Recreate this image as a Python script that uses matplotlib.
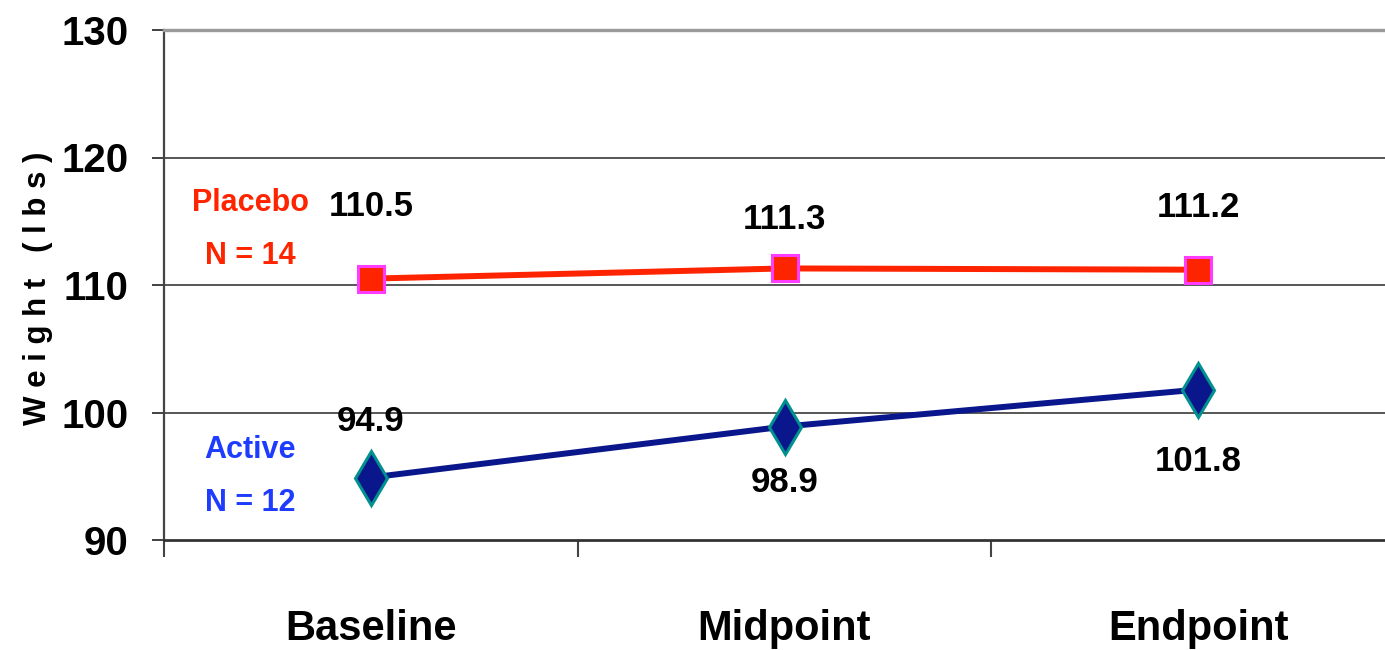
import matplotlib
matplotlib.use("Agg")
import matplotlib.pyplot as plt
from matplotlib.ticker import FixedLocator

# ---- data ----
timepoints = ["Baseline", "Midpoint", "Endpoint"]
placebo_weight = [110.5, 111.3, 111.2]
active_weight = [94.9, 98.9, 101.8]
placebo_group = ["Placebo", "N = 14"]
active_group = ["Active", "N = 12"]
y_ticks = [90, 100, 110, 120, 130]

# ---- styling ----
FONT = ["Liberation Sans Narrow", "Liberation Sans", "DejaVu Sans"]
RED = "#FF2400"
MAGENTA = "#FF3CFF"
NAVY = "#0A168C"
TEAL = "#00908E"
BLUE_TXT = "#1E3CFF"

# label offsets (points) above/below each marker
placebo_offsets = [52, 35, 45]
active_offsets = [40, -40, -52]

fig = plt.figure(figsize=(13.85, 6.5), dpi=100)
ax = fig.add_axes([164 / 1385, 1 - 540 / 650, (1405 - 164) / 1385, (540 - 30) / 650])

x = list(range(len(timepoints)))

ax.plot(x, placebo_weight, color=RED, lw=4.3, marker="s", markersize=18.5,
        markerfacecolor=RED, markeredgecolor=MAGENTA, markeredgewidth=2.2,
        zorder=4, clip_on=False)
ax.plot(x, active_weight, color=NAVY, lw=4.3, marker="d", markersize=27,
        markerfacecolor=NAVY, markeredgecolor=TEAL, markeredgewidth=2.2,
        zorder=4, clip_on=False)

for xi, v, off in zip(x, placebo_weight, placebo_offsets):
    ax.annotate(f"{v:.1f}", (xi, v), xytext=(0, off), textcoords="offset points",
                ha="center", va="center", fontsize=25, fontweight="bold",
                family=FONT, color="black", zorder=5)
for xi, v, off in zip(x, active_weight, active_offsets):
    ax.annotate(f"{v:.1f}", (xi, v), xytext=(0, off), textcoords="offset points",
                ha="center", va="center", fontsize=25, fontweight="bold",
                family=FONT, color="black", zorder=5)

# group captions at the left of the plot
gx = -0.292
ax.text(gx, 116.4, placebo_group[0], ha="center", va="center", fontsize=22,
        fontweight="bold", family=FONT, color=RED)
ax.text(gx, 112.3, placebo_group[1], ha="center", va="center", fontsize=22,
        fontweight="bold", family=FONT, color=RED)
ax.text(gx, 97.06, active_group[0], ha="center", va="center", fontsize=22,
        fontweight="bold", family=FONT, color=BLUE_TXT)
ax.text(gx, 92.9, active_group[1], ha="center", va="center", fontsize=22,
        fontweight="bold", family=FONT, color=BLUE_TXT)

# axes limits and ticks
ax.set_xlim(-0.5, len(timepoints) - 0.5)
ax.set_ylim(y_ticks[0], y_ticks[-1])
ax.set_yticks(y_ticks)
ax.set_yticklabels([str(t) for t in y_ticks], fontsize=29, fontweight="bold",
                   family=FONT)
ax.set_xticks(x)
ax.set_xticklabels(timepoints, fontsize=30, fontweight="bold", family=FONT)
ax.xaxis.set_minor_locator(FixedLocator([i - 0.5 for i in range(len(timepoints) + 1)]))
ax.tick_params(axis="x", which="major", length=0, pad=50)
ax.tick_params(axis="x", which="minor", length=12, width=1.5, color="#444444",
               direction="out")
ax.tick_params(axis="y", which="major", length=8.6, width=1.3, color="#333333",
               direction="out", pad=17)

# horizontal gridlines
for yv in y_ticks[1:-1]:
    ax.axhline(yv, color="#3A3A3A", lw=1.2, zorder=1)

ax.spines["top"].set_color("#9A9A9A")
ax.spines["top"].set_linewidth(2.4)
ax.spines["right"].set_visible(False)
ax.spines["bottom"].set_color("#333333")
ax.spines["bottom"].set_linewidth(2.0)
ax.spines["left"].set_color("#444444")
ax.spines["left"].set_linewidth(1.6)

fig.text(38 / 1385, 1 - 288 / 650, "W e i g h t   ( l b s )", rotation=90,
         ha="center", va="center", fontsize=22.5, fontweight="bold",
         family=["Liberation Sans", "DejaVu Sans"])

fig.savefig("out.png", dpi=100, facecolor="white")
